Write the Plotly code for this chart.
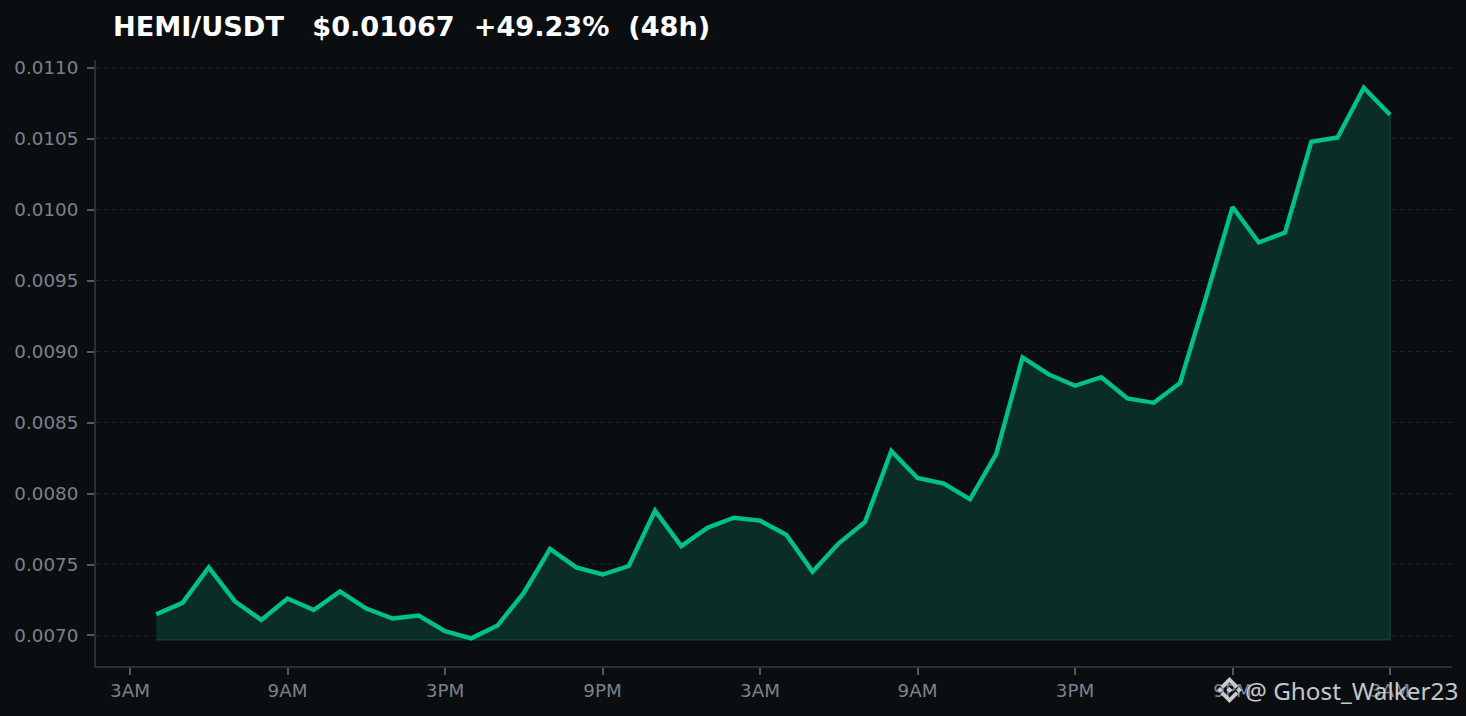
import plotly.graph_objects as go

hours = [4, 5, 6, 7, 8, 9, 10, 11, 12, 13, 14, 15, 16, 17, 18, 19, 20, 21, 22, 23, 24, 25, 26, 27,
         28, 29, 30, 31, 32, 33, 34, 35, 36, 37, 38, 39, 40, 41, 42, 43, 44, 45, 46, 47, 48, 49, 50, 51]
prices = [0.00715, 0.00723, 0.00748, 0.00724, 0.00711, 0.00726, 0.00718, 0.00731,
          0.00719, 0.00712, 0.00714, 0.00703, 0.00698, 0.00707, 0.00730, 0.00761,
          0.00748, 0.00743, 0.00749, 0.00788, 0.00763, 0.00776, 0.00783, 0.00781,
          0.00771, 0.00745, 0.00765, 0.00780, 0.00830, 0.00811, 0.00807, 0.00796,
          0.00828, 0.00896, 0.00884, 0.00876, 0.00882, 0.00867, 0.00864, 0.00878,
          0.00939, 0.01002, 0.00977, 0.00984, 0.01048, 0.01051, 0.01086, 0.01067]
fill_floor = 0.00697
x_tick_vals = [3, 9, 15, 21, 27, 33, 39, 45, 51]
x_tick_text = ["3AM", "9AM", "3PM", "9PM", "3AM", "9AM", "3PM", "9PM", "3AM"]
y_tick_vals = [0.0070, 0.0075, 0.0080, 0.0085, 0.0090, 0.0095, 0.0100, 0.0105, 0.0110]
title_text = "HEMI/USDT   $0.01067  +49.23%  (48h)"
watermark = "@ Ghost_Walker23"

W, H = 1466, 716
ML, MR, MT, MB = 96, 14, 60, 50
BG = "#0a0e11"
GREEN = "#00c08b"
AXIS = "#2c3036"
TICKMARK = "#555a62"
TICK = "#7b828c"

fig = go.Figure()
fig.add_trace(go.Scatter(
    x=hours + hours[::-1], y=prices + [fill_floor] * len(hours),
    mode="lines", fill="toself", fillcolor="#0a2e27",
    line=dict(color="#0d4033", width=1.5), hoverinfo="skip", showlegend=False))
fig.add_trace(go.Scatter(
    x=hours, y=prices, mode="lines",
    line=dict(color=GREEN, width=4.4), showlegend=False))


def px(x):
    return (x - ML) / (W - ML - MR)


def py(y):
    return (H - MB - y) / (H - MT - MB)


def diamond(cx, cy, r, color="#c9cccf"):
    return dict(type="path", xref="paper", yref="paper",
                path=f"M {px(cx - r)} {py(cy)} L {px(cx)} {py(cy - r)} L {px(cx + r)} {py(cy)} L {px(cx)} {py(cy + r)} Z",
                fillcolor=color, line=dict(width=0), layer="above")


def chevron(cx, cy, up, color="#c9cccf"):
    s = -1 if up else 1
    pts = [(cx - 9, cy + s * 4), (cx, cy + s * 13), (cx + 9, cy + s * 4),
           (cx + 6, cy + s * 1.5), (cx, cy + s * 7.5), (cx - 6, cy + s * 1.5)]
    d = "M " + " L ".join(f"{px(a)} {py(b)}" for a, b in pts) + " Z"
    return dict(type="path", xref="paper", yref="paper", path=d,
                fillcolor=color, line=dict(width=0), layer="above")


icon_x, icon_y = 1229.5, 690
shapes = [chevron(icon_x, icon_y, True), chevron(icon_x, icon_y, False),
          diamond(icon_x, icon_y, 3), diamond(icon_x - 9.5, icon_y, 3), diamond(icon_x + 9.5, icon_y, 3)]

fig.update_layout(
    width=W, height=H, autosize=False,
    paper_bgcolor=BG, plot_bgcolor=BG,
    margin=dict(l=ML, r=MR, t=MT, b=MB, pad=0),
    font=dict(family="DejaVu Sans", color=TICK, size=16),
    showlegend=False, shapes=shapes,
    annotations=[
        dict(text=f"<b>{title_text}</b>", xref="paper", yref="paper",
             x=px(114), y=py(26), xanchor="left", yanchor="middle", showarrow=False,
             xshift=-3, font=dict(family="DejaVu Sans", size=27.15, color="#ffffff")),
        dict(text=watermark, xref="paper", yref="paper",
             x=px(1458), y=py(691), xanchor="right", yanchor="middle", showarrow=False,
             xshift=2, font=dict(family="Noto Sans", size=24.3, color="#c4c7ca")),
    ],
    xaxis=dict(range=[1.705, 53.36], tickmode="array", tickvals=x_tick_vals, ticktext=x_tick_text,
               showgrid=False, zeroline=False, showline=True, linecolor=AXIS, linewidth=2,
               ticks="outside", ticklen=7, tickwidth=1.5, tickcolor=TICKMARK,
               tickfont=dict(size=18.3, color=TICK)),
    yaxis=dict(range=[0.006785, 0.011056], tickmode="array", tickvals=y_tick_vals,
               tickformat=".4f", showgrid=True, gridcolor="#1c2024", griddash="4px,4px", gridwidth=1,
               zeroline=False, showline=True, linecolor=AXIS, linewidth=2,
               ticks="outside", ticklen=7, tickwidth=1.5, tickcolor=TICKMARK, ticklabelstandoff=5,
               tickfont=dict(size=18.3, color=TICK)),
)

fig.write_html("out.html", config={"displayModeBar": False},
               post_script="document.body.style.margin='0';document.body.style.overflow='hidden';document.body.style.background='#0a0e11';")
